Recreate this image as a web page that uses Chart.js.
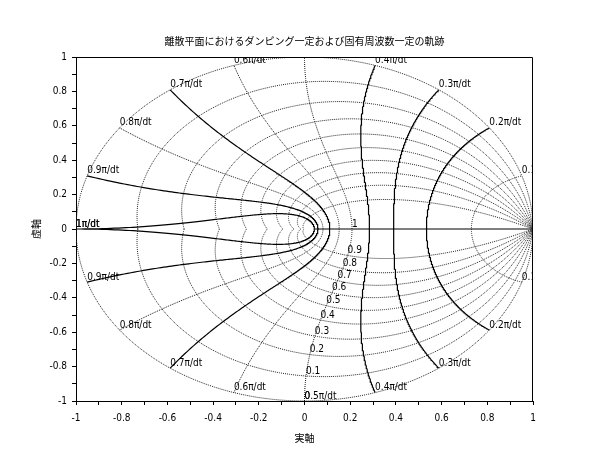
<!DOCTYPE html>
<html><head><meta charset="utf-8">
<script src="https://cdn.jsdelivr.net/npm/chart.js@4"></script>
<style>html,body{margin:0;padding:0;background:#fff}</style>
</head><body>
<canvas id="c" width="610" height="460"></canvas>
<script>
const titleText = '離散平面におけるダンピング一定および固有周波数一定の軌跡';
const xTitle = '実軸';
const yTitle = '虚軸';
// constant damping values
const zetaValues = [0, 0.1, 0.2, 0.3, 0.4, 0.5, 0.6, 0.7, 0.8, 0.9, 1];
const zetaLabels = ['0', '0.1', '0.2', '0.3', '0.4', '0.5', '0.6', '0.7', '0.8', '0.9', '1'];
// constant natural frequency values (units of pi/dt)
const wnValues = [0.1, 0.2, 0.3, 0.4, 0.5, 0.6, 0.7, 0.8, 0.9, 1];
const wnLabels = ['0.1π/dt', '0.2π/dt', '0.3π/dt', '0.4π/dt', '0.5π/dt', '0.6π/dt', '0.7π/dt', '0.8π/dt', '0.9π/dt', '1π/dt'];
// axis ticks
const tickValues = [-1, -0.9, -0.8, -0.7, -0.6, -0.5, -0.4, -0.3, -0.2, -0.1, 0, 0.1, 0.2, 0.3, 0.4, 0.5, 0.6, 0.7, 0.8, 0.9, 1];
const tickLabels = ['-1', '', '-0.8', '', '-0.6', '', '-0.4', '', '-0.2', '', '0', '', '0.2', '', '0.4', '', '0.6', '', '0.8', '', '1'];

// styles (kept separate from data)
const wnDotted = [true, false, false, false, true, true, false, true, false, false];
const N = 240;

function dampingCurve(z) {
  const pts = [];
  if (z >= 1) {
    for (let i = 0; i <= N; i++) { const w = Math.PI * i / N; pts.push({x: Math.exp(-w), y: 0}); }
    return pts;
  }
  const k = z / Math.sqrt(1 - z * z);
  for (let i = 0; i <= 2 * N; i++) {
    const phi = -Math.PI + 2 * Math.PI * i / (2 * N);
    const r = Math.exp(-k * Math.abs(phi));
    pts.push({x: r * Math.cos(phi), y: r * Math.sin(phi)});
  }
  return pts;
}
function wnCurve(wn) {
  const w = wn * Math.PI, pts = [];
  for (let i = 0; i <= 2 * N; i++) {
    const a = -Math.PI / 2 + Math.PI * i / (2 * N);
    const r = Math.exp(-w * Math.cos(a));
    const ang = w * Math.sin(a);
    pts.push({x: r * Math.cos(ang), y: r * Math.sin(ang)});
  }
  return pts;
}

const datasets = [];
wnValues.forEach((wn, i) => {
  datasets.push({data: wnCurve(wn), showLine: true, pointRadius: 0, borderWidth: wnDotted[i] ? 1 : 1.2,
    borderColor: wnDotted[i] ? '#111' : '#000', borderDash: wnDotted[i] ? [1, 1] : [], fill: false, tension: 0});
});
zetaValues.forEach((z) => {
  datasets.push({data: dampingCurve(z), showLine: true, pointRadius: 0, borderWidth: z >= 1 ? 1.2 : 1,
    borderColor: z >= 1 ? '#000' : '#222', borderDash: z >= 1 ? [] : [1, 1], fill: false, tension: 0});
});

const labelFont = '10px "DejaVu Sans Condensed", "DejaVu Sans", sans-serif';
const textPlugin = {
  id: 'texts',
  afterDatasetsDraw(chart) {
    const {ctx, chartArea: ca, scales: {x, y}} = chart;
    ctx.save();
    ctx.beginPath();
    ctx.rect(ca.left, ca.top, ca.right - ca.left, ca.bottom - ca.top);
    ctx.clip();
    ctx.fillStyle = '#000';
    ctx.font = labelFont;
    ctx.textAlign = 'left';
    ctx.textBaseline = 'bottom';
    wnValues.forEach((wn, i) => {
      const th = wn * Math.PI;
      const px = x.getPixelForValue(Math.cos(th));
      ctx.fillText(wnLabels[i], px, y.getPixelForValue(Math.sin(th)));
      ctx.fillText(wnLabels[i], px, y.getPixelForValue(-Math.sin(th)));
    });
    const w = Math.PI / 2;
    zetaValues.forEach((z, i) => {
      const r = Math.exp(-z * w), ang = w * Math.sqrt(1 - z * z);
      ctx.fillText(zetaLabels[i], x.getPixelForValue(r * Math.cos(ang)), y.getPixelForValue(-r * Math.sin(ang)));
    });
    ctx.restore();
  },
  afterDraw(chart) {
    const {ctx, chartArea: ca} = chart;
    ctx.save();
    ctx.strokeStyle = '#000';
    ctx.lineWidth = 1;
    ctx.beginPath();
    const t = Math.round(ca.top) + 0.5, r = Math.round(ca.right) - 0.5;
    ctx.moveTo(Math.round(ca.left), t); ctx.lineTo(r, t); ctx.lineTo(r, Math.round(ca.bottom));
    ctx.stroke();
    ctx.fillStyle = '#000';
    ctx.font = '10px "Noto Sans CJK JP", sans-serif';
    ctx.textAlign = 'center';
    ctx.textBaseline = 'middle';
    ctx.fillText(titleText, (ca.left + ca.right) / 2, 41);
    ctx.fillText(xTitle, (ca.left + ca.right) / 2, 438);
    ctx.translate(36, (ca.top + ca.bottom) / 2);
    ctx.rotate(-Math.PI / 2);
    ctx.fillText(yTitle, 0, 0);
    ctx.restore();
  }
};

function axis(isX) {
  return {
    type: 'linear', min: -1, max: 1,
    afterBuildTicks: s => { s.ticks = tickValues.map(v => ({value: v})); },
    afterFit: s => { if (isX) s.height = 59; else s.width = 76; },
    grid: {display: true, drawOnChartArea: false, drawTicks: true, tickLength: 4, color: '#000', lineWidth: 1},
    border: {display: true, color: '#000', width: 1},
    ticks: {autoSkip: false, maxRotation: 0, padding: isX ? 7 : 5, color: '#000',
      font: {family: '"DejaVu Sans Condensed", "DejaVu Sans", sans-serif', size: 10},
      callback: (v, i) => tickLabels[i]}
  };
}

new Chart(document.getElementById('c'), {
  type: 'scatter',
  data: {datasets},
  options: {
    responsive: false, animation: false, events: [],
    layout: {padding: {left: 0, top: 57, right: 77, bottom: 0}},
    plugins: {legend: {display: false}, tooltip: {enabled: false}, title: {display: false}},
    scales: {x: axis(true), y: axis(false)}
  },
  plugins: [textPlugin]
});
</script>
</body></html>
